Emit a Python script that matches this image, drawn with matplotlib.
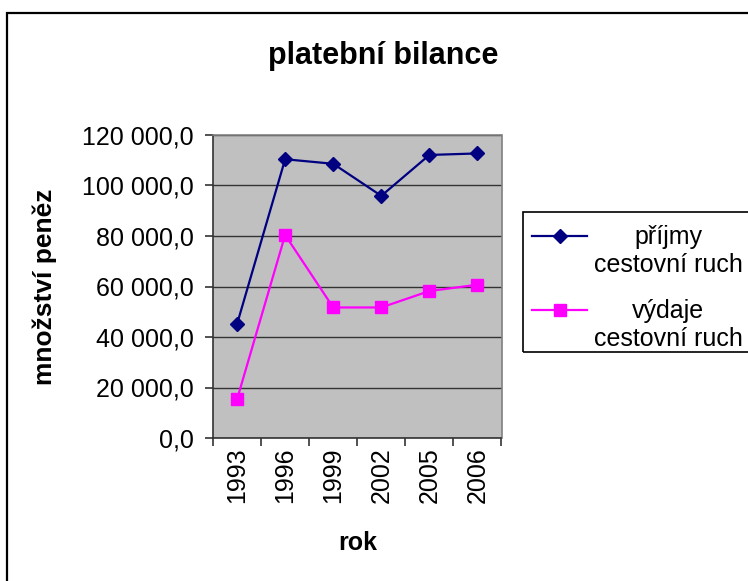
import matplotlib.pyplot as plt
from matplotlib.patches import Rectangle
from matplotlib.lines import Line2D
from matplotlib.ticker import FuncFormatter, FixedLocator

plt.rcParams['font.family'] = ['Liberation Sans', 'DejaVu Sans']

years = ['1993', '1996', '1999', '2002', '2005', '2006']
prijmy = [45100, 110400, 108600, 95900, 112100, 112700]
vydaje = [15300, 80400, 51700, 51700, 58200, 60700]
labels = ['příjmy\ncestovní ruch', 'výdaje\ncestovní ruch']

W, H = 748, 581
fig = plt.figure(figsize=(W / 100, H / 100), dpi=100)

def fx(px):
    return px / W

def fy(py):
    return 1 - py / H

# outer chart border (runs off the right/bottom edge)
fig.patches.append(Rectangle((fx(7), fy(600)), fx(800), fy(13) - fy(600),
                             transform=fig.transFigure, fill=False,
                             edgecolor='black', linewidth=1.6))

ax = fig.add_axes([fx(213), fy(438), fx(501.5) - fx(213), fy(135) - fy(438)])
ax.set_facecolor('#C0C0C0')
for side in ['top', 'right']:
    ax.spines[side].set_color('#808080')
    ax.spines[side].set_linewidth(1.2)
for side in ['left', 'bottom']:
    ax.spines[side].set_color('#333333')
    ax.spines[side].set_linewidth(1.2)

x = list(range(len(years)))
ax.plot(x, prijmy, color='#000080', lw=1.6, marker='D', ms=7, zorder=3)
ax.plot(x, vydaje, color='#FF00FF', lw=1.6, marker='s', ms=8.5, zorder=3)

ax.set_xlim(-0.5, len(years) - 0.5)
ax.set_ylim(0, 120000)
ax.set_yticks(range(0, 120001, 20000))
ax.yaxis.set_major_formatter(FuncFormatter(
    lambda v, p: f'{v:,.1f}'.replace(',', ' ').replace('.', ',')))
ax.grid(axis='y', color='#333333', lw=1)
ax.set_axisbelow(True)

ax.set_xticks(x)
ax.set_xticklabels(years, rotation=90)
ax.xaxis.set_minor_locator(FixedLocator([i - 0.5 for i in range(len(years) + 1)]))
ax.tick_params(axis='x', which='major', length=0, pad=7, labelsize=18)
ax.tick_params(axis='x', which='minor', length=6, width=1.2, color='#333333')
ax.tick_params(axis='y', length=6, width=1.2, color='#333333', labelsize=18, pad=8)

ax.set_xlabel('rok', fontsize=18, fontweight='bold', labelpad=20)
ax.set_ylabel('množství peněz', fontsize=19, fontweight='bold', labelpad=18)
fig.text(fx(383), fy(56), 'platební bilance', fontsize=22, fontweight='bold',
         ha='center', va='center')

# legend box (cut off at the right edge like the original)
fig.patches.append(Rectangle((fx(523), fy(352)), fx(300), fy(212) - fy(352),
                             transform=fig.transFigure, fill=False,
                             edgecolor='black', linewidth=1.2))
colors = ['#000080', '#FF00FF']
markers = [('D', 7), ('s', 8.5)]
for i, (lab, c, (m, ms)) in enumerate(zip(labels, colors, markers)):
    yl = fy(236 + i * 74)
    fig.lines.append(Line2D([fx(532), fx(587)], [yl, yl], transform=fig.transFigure,
                            color=c, lw=1.6))
    fig.lines.append(Line2D([fx(559.5)], [yl], transform=fig.transFigure,
                            color=c, marker=m, ms=ms))
    fig.text(fx(668), fy(251 + i * 74), lab, fontsize=18, ha='center', va='center',
             multialignment='center', linespacing=1.2)

fig.savefig('out.png', dpi=100)
